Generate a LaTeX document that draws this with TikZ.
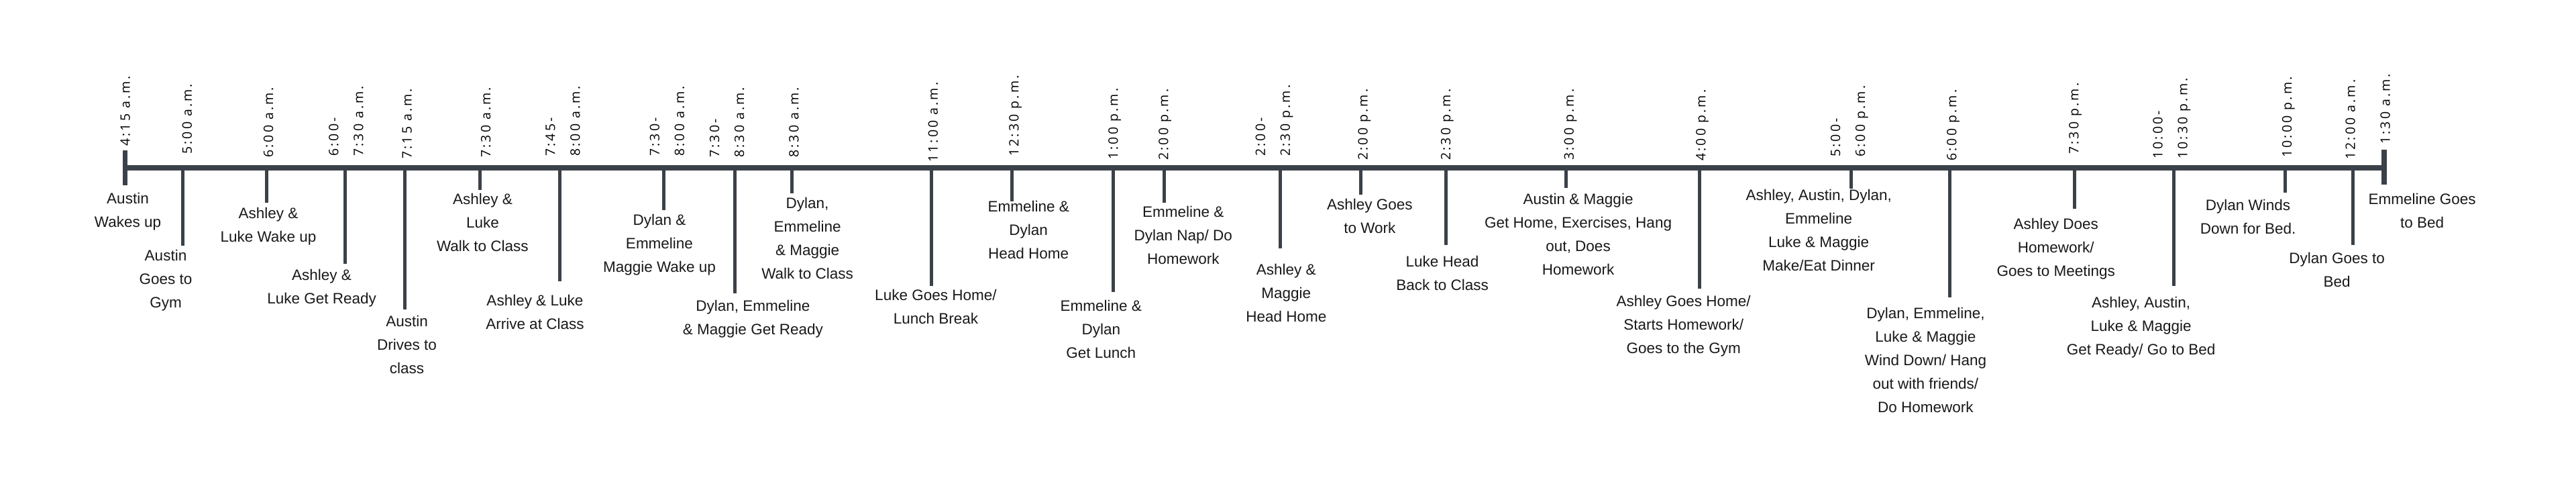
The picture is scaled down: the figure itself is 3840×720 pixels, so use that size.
\documentclass[tikz,border=0pt]{standalone}
\usepackage{fontspec}
\newfontfamily\evfam{Liberation Sans}
\newfontfamily\tmfam[LetterSpace=16]{Open Sans}
\definecolor{axiscol}{RGB}{59,65,73}
\definecolor{txtcol}{RGB}{25,25,25}
\begin{document}
\begin{tikzpicture}[x=1pt,y=-1pt,
  axisline/.style={line width=7.5pt, draw=axiscol},
  tickline/.style={line width=5pt, draw=axiscol},
  ev/.style={anchor=north, align=center, inner sep=0pt, text=txtcol, font=\evfam\fontsize{22.5}{35}\selectfont},
  tm/.style={rotate=90, anchor=west, inner sep=0pt, text=black, text depth=0pt, font=\tmfam\fontsize{19.5}{37}\selectfont},
  tmtwo/.style={rotate=90, anchor=west, inner sep=0pt, align=left, text=black, font=\tmfam\fontsize{19.5}{37}\selectfont}]
\useasboundingbox (0,0) rectangle (3840,720);
\fill[white] (0,0) rectangle (3840,720);
% axis and end caps
\coordinate (axL) at (186.5,250);
\coordinate (axR) at (3554,250);
\draw[axisline] (axL) -- (axR);
\coordinate (capLt) at (186.5,223.5);
\coordinate (capLb) at (186.5,276);
\draw[axisline] (capLt) -- (capLb);
\coordinate (capRt) at (3554,223);
\coordinate (capRb) at (3554,275);
\draw[axisline] (capRt) -- (capRb);
% ticks
\foreach \tx/\tb [count=\i] in {272.5/366, 397/302, 514.8/393, 603/461, 715.3/283, 834.7/419,
  989.3/313, 1095.4/437, 1180.6/288, 1388.3/426, 1508.2/300, 1659.5/435,
  1735.7/302, 1908.7/370, 2028.6/290, 2155.1/365, 2334.7/280, 2533.7/430,
  2759.7/281, 2906.1/443, 3092.3/311, 3240.2/426, 3406.7/287, 3507.7/365} {
  \coordinate (tt\i) at (\tx,250);
  \coordinate (tb\i) at (\tx,\tb);
  \draw[tickline] (tt\i) -- (tb\i);
}
% time labels
\node[tm] (t1) at (186.7,218) {4:15 a.m.};
\node[tm] (t2) at (278.7,230) {5:00 a.m.};
\node[tm] (t3) at (400,235) {6:00 a.m.};
\node[tmtwo] (t4) at (516,233) {6:00-\\7:30 a.m.};
\node[tm] (t5) at (606.6,237) {7:15 a.m.};
\node[tm] (t6) at (724,235) {7:30 a.m.};
\node[tmtwo] (t7) at (839,233) {7:45-\\8:00 a.m.};
\node[tmtwo] (t8) at (994.4,233) {7:30-\\8:00 a.m.};
\node[tmtwo] (t9) at (1083.7,235) {7:30-\\8:30 a.m.};
\node[tm] (t10) at (1183.2,235) {8:30 a.m.};
\node[tm] (t11) at (1390.8,242) {11:00 a.m.};
\node[tm] (t12) at (1511.2,233) {12:30 p.m.};
\node[tm] (t13) at (1659.2,238) {1:00 p.m.};
\node[tm] (t14) at (1734.2,239) {2:00 p.m.};
\node[tmtwo] (t15) at (1899.6,233) {2:00-\\2:30 p.m.};
\node[tm] (t16) at (2031.6,239) {2:00 p.m.};
\node[tm] (t17) at (2155,239) {2:30 p.m.};
\node[tm] (t18) at (2338.8,239) {3:00 p.m.};
\node[tm] (t19) at (2535.2,240) {4:00 p.m.};
\node[tmtwo] (t20) at (2756.8,234) {5:00-\\6:00 p.m.};
\node[tm] (t21) at (2909.2,240) {6:00 p.m.};
\node[tm] (t22) at (3091.3,230) {7:30 p.m.};
\node[tmtwo] (t23) at (3237.4,237) {10:00-\\10:30 p.m.};
\node[tm] (t24) at (3409,235) {10:00 p.m.};
\node[tm] (t25) at (3503.5,238) {12:00 a.m.};
\node[tm] (t26) at (3555.4,215) {1:30 a.m.};
% event labels
\node[ev] (e1) at (190.5,286.6) {Austin\\Wakes up};
\node[ev] (e2) at (247,371.6) {Austin\\Goes to\\Gym};
\node[ev] (e3) at (400,308.6) {Ashley \&\\Luke Wake up};
\node[ev] (e4) at (479.6,400.6) {Ashley \&\\Luke Get Ready};
\node[ev] (e5) at (606.6,469.6) {Austin\\Drives to\\class};
\node[ev] (e6) at (719.4,287.6) {Ashley \&\\Luke\\Walk to Class};
\node[ev] (e7) at (797.4,438.6) {Ashley \& Luke\\Arrive at Class};
\node[ev] (e8) at (983,318.6) {Dylan \&\\Emmeline\\Maggie Wake up};
\node[ev] (e9) at (1122.4,446.6) {Dylan, Emmeline\\\& Maggie Get Ready};
\node[ev] (e10) at (1203.6,293.6) {Dylan,\\Emmeline\\\& Maggie\\Walk to Class};
\node[ev] (e11) at (1394.9,430.6) {Luke Goes Home/\\Lunch Break};
\node[ev] (e12) at (1533.2,298.6) {Emmeline \&\\Dylan\\Head Home};
\node[ev] (e13) at (1641.3,446.6) {Emmeline \&\\Dylan\\Get Lunch};
\node[ev] (e14) at (1763.8,306.6) {Emmeline \&\\Dylan Nap/ Do\\Homework};
\node[ev] (e15) at (1917.3,392.6) {Ashley \&\\Maggie\\Head Home};
\node[ev] (e16) at (2041.8,295.6) {Ashley Goes\\to Work};
\node[ev] (e17) at (2150,380.6) {Luke Head\\Back to Class};
\node[ev] (e18) at (2352.6,287.6) {Austin \& Maggie\\Get Home, Exercises, Hang\\out, Does\\Homework};
\node[ev] (e19) at (2509.7,439.6) {Ashley Goes Home/\\Starts Homework/\\Goes to the Gym};
\node[ev] (e20) at (2711.2,281.6) {Ashley, Austin, Dylan,\\Emmeline\\Luke \& Maggie\\Make/Eat Dinner};
\node[ev] (e21) at (2870.4,458.3) {Dylan, Emmeline,\\Luke \& Maggie\\Wind Down/ Hang\\out with friends/\\Do Homework};
\node[ev] (e22) at (3064.8,325) {Ashley Does\\Homework/\\Goes to Meetings};
\node[ev] (e23) at (3191.6,441.6) {Ashley, Austin,\\Luke \& Maggie\\Get Ready/ Go to Bed};
\node[ev] (e24) at (3351,296.6) {Dylan Winds\\Down for Bed.};
\node[ev] (e25) at (3483.7,375.6) {Dylan Goes to\\Bed};
\node[ev] (e26) at (3610.6,287.6) {Emmeline Goes\\to Bed};
\end{tikzpicture}
\end{document}
